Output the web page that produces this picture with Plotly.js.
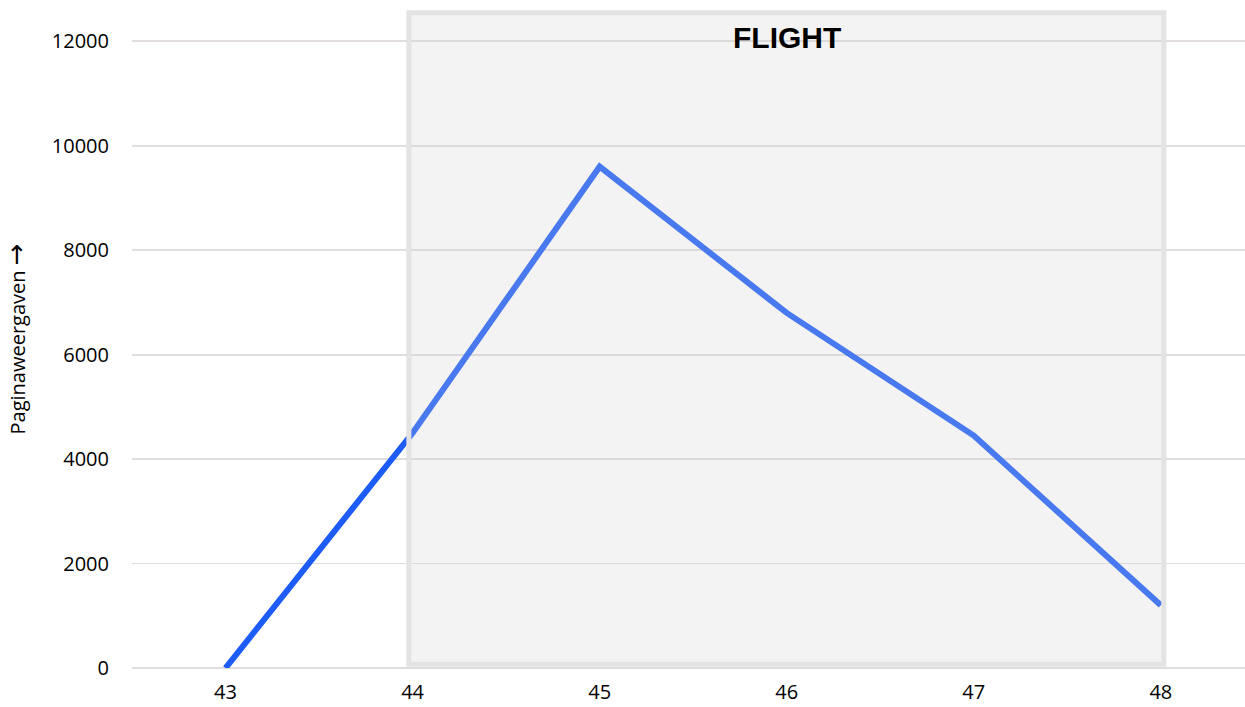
<!DOCTYPE html>
<html>
<head>
<meta charset="utf-8">
<script src="https://cdn.plot.ly/plotly-3.0.1.min.js"></script>
<style>
  html, body { margin: 0; padding: 0; background: #ffffff; }
  #chart { width: 1245px; height: 707px; }
</style>
</head>
<body>
<div id="chart"></div>
<script>
// Weekly page views, with the flight period highlighted
const weeks = [43, 44, 45, 46, 47, 48];
const pageViews = [0, 4500, 9600, 6800, 4450, 1200];
const yTicks = [0, 2000, 4000, 6000, 8000, 10000, 12000];
const flightLabel = 'FLIGHT';
const flightStart = 44;
const flightEnd = 48;
const yTitleWord = 'Paginaweergaven';
const yTitleArrow = '→';

const trace = {
  x: weeks,
  y: pageViews,
  type: 'scatter',
  mode: 'lines',
  line: { color: '#1d5cf8', width: 6 },
  hoverinfo: 'x+y'
};

const layout = {
  width: 1245,
  height: 707,
  margin: { l: 132, r: 0, t: 10, b: 39 },
  paper_bgcolor: '#ffffff',
  plot_bgcolor: '#ffffff',
  showlegend: false,
  font: { family: 'Open Sans, sans-serif', size: 20, color: '#000000' },
  xaxis: {
    range: [42.5, 48.45],
    tickvals: weeks,
    ticktext: weeks.map(String),
    showgrid: false,
    zeroline: false,
    showline: false,
    ticks: '',
    ticklabelstandoff: 10,
    tickfont: { size: 20, color: '#000000' }
  },
  yaxis: {
    range: [0, 12600],
    tickvals: yTicks,
    ticktext: yTicks.map(String),
    showgrid: true,
    gridcolor: '#e1dcde',
    gridwidth: 1.8,
    zeroline: true,
    zerolinecolor: '#e1dcde',
    zerolinewidth: 1.8,
    showline: false,
    ticks: '',
    ticklabelstandoff: 22,
    tickfont: { size: 20, color: '#000000' },
    title: {
      text: yTitleWord + ' <span style="font-family:DejaVu Sans;font-size:26px">' + yTitleArrow + '</span>',
      font: { size: 20, color: '#000000' },
      standoff: 20
    }
  },
  shapes: [{
    type: 'rect',
    xref: 'x', yref: 'y',
    x0: flightStart - 0.02, x1: flightEnd + 0.016,
    y0: 70, y1: 12545,
    fillcolor: 'rgba(206,206,206,0.25)',
    line: { color: '#e3e3e3', width: 5 },
    layer: 'above'
  }],
  annotations: [{
    x: (flightStart + flightEnd) / 2,
    y: 12080,
    xref: 'x', yref: 'y',
    text: '<b>' + flightLabel + '</b>',
    showarrow: false,
    font: { family: 'Liberation Sans, Arial, sans-serif', size: 30, color: '#000000' }
  }]
};

Plotly.newPlot('chart', [trace], layout, { staticPlot: true, displayModeBar: false });
</script>
</body>
</html>
